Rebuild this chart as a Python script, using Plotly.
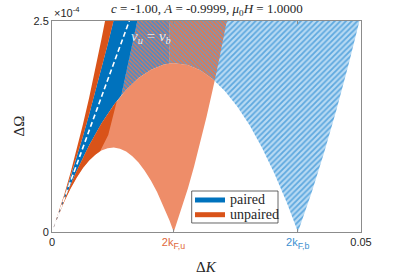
import plotly.graph_objects as go

# ---- data (DeltaK, DeltaOmega in units of 1e-4) ----
# upper edge of the unpaired continuum
q_up_u = [0, 0.001, 0.002, 0.003, 0.004, 0.005, 0.006, 0.007, 0.008, 0.00858]
w_up_u = [0, 0.213, 0.447, 0.702, 0.977, 1.273, 1.589, 1.926, 2.283, 2.5]
# lower edge of the unpaired continuum (arc to 2k_F,u then right edge)
q_lo_u = [0, 0.001, 0.002, 0.003, 0.004, 0.005, 0.006, 0.007, 0.0078, 0.008, 0.009, 0.010,
          0.011, 0.012, 0.013, 0.014, 0.015, 0.016, 0.017, 0.018, 0.019, 0.0197,
          0.021, 0.022, 0.023, 0.024, 0.025, 0.026, 0.02632, 0.027, 0.028, 0.02829]
w_lo_u = [0, 0.193, 0.365, 0.516, 0.647, 0.758, 0.847, 0.916, 0.960, 0.965, 0.993, 1.000,
          0.987, 0.953, 0.898, 0.823, 0.727, 0.611, 0.474, 0.317, 0.139, 0.0,
          0.279, 0.519, 0.780, 1.061, 1.363, 1.685, 1.792, 2.028, 2.391, 2.5]
# upper edge of the paired continuum
q_up_b = [0, 0.001, 0.002, 0.003, 0.004, 0.005, 0.006, 0.007, 0.008, 0.009, 0.00995]
w_up_b = [0, 0.206, 0.422, 0.649, 0.885, 1.131, 1.388, 1.654, 1.931, 2.218, 2.5]
# lower edge of the paired continuum
q_lo_b = [0, 0.002, 0.004, 0.006, 0.008, 0.010, 0.0105, 0.0112, 0.012, 0.014, 0.016, 0.018,
          0.019, 0.0199, 0.022, 0.024, 0.026, 0.02632, 0.028, 0.030, 0.032, 0.034, 0.036,
          0.038, 0.0398, 0.042, 0.044, 0.046, 0.048, 0.04975]
w_lo_b = [0, 0.382, 0.723, 1.024, 1.285, 1.505, 1.554, 1.618, 1.685, 1.824, 1.923, 1.982,
          1.996, 2.000, 1.978, 1.915, 1.812, 1.792, 1.669, 1.485, 1.261, 0.996, 0.691,
          0.346, 0.0, 0.466, 0.933, 1.440, 1.987, 2.5]
# dashed guide v_u = v_b
q_guide = [0, 0.0125]
w_guide = [0, 2.5]
# edges of the densely drawn parts
q_dense_b = [0.0138, 0.0112]
w_dense_b = [2.5, 1.618]
q_dense_u = [0.0091, 0.0078]
w_dense_u = [1.15, 0.96]

tick_q = [0, 0.01966, 0.03977, 0.05]
BLUE = "#0072BD"
ORANGE = "#D95319"

fig = go.Figure()


def poly(x, y, **kw):
    fig.add_trace(go.Scatter(x=x, y=y, mode="lines", fill="toself", line=dict(width=0),
                             hoverinfo="skip", showlegend=False, **kw))


def sel(qs, ws, lo, hi):
    pts = [(q, w) for q, w in zip(qs, ws) if lo <= q <= hi]
    return [p[0] for p in pts], [p[1] for p in pts]


# paired region (light hatched blue)
bx = q_up_b + [q_lo_b[-1]] + q_lo_b[::-1]
by = w_up_b + [2.5] + w_lo_b[::-1]
poly(bx, by, fillcolor="#A9D2F0",
     fillpattern=dict(shape="/", fgcolor="#5EA8DF", bgcolor="#B8DAF3", size=4, solidity=0.45))

# overlap region (paired + unpaired lines -> mottled), split in two shades
split = 0.019
ql, wl = sel(q_lo_b, w_lo_b, 0.0112, split)
mx1 = [0.0138, split] + ql[::-1]
my1 = [2.5, 2.5] + wl[::-1]
poly(mx1 + [0.0138], my1 + [2.5], fillcolor="#5D97CF",
     fillpattern=dict(shape="\\", fgcolor="#E07A50", bgcolor="#4A8BCB", size=3, solidity=0.4))
qb, wb = sel(q_lo_b, w_lo_b, split, 0.02632)
qu, wu = sel(q_lo_u, w_lo_u, 0.02632, 0.02829)
mx2 = qb + qu + [0.02829, split]
my2 = wb + wu + [2.5, 2.5]
poly(mx2, my2, fillcolor="#C0806A",
     fillpattern=dict(shape="\\", fgcolor="#E07A50", bgcolor="#6A9ACA", size=3, solidity=0.6))

# dense blue band near the upper edge of the paired continuum
ql, wl = sel(q_lo_b, w_lo_b, 0, 0.0112)
poly(q_up_b + q_dense_b + ql[::-1], w_up_b + w_dense_b + wl[::-1], fillcolor=BLUE)

# dome: unpaired only (below paired lower edge)
qu, wu = sel(q_lo_u, w_lo_u, 0, 0.02632)
qb, wb = sel(q_lo_b, w_lo_b, 0, 0.02632)
poly(qu + qb[::-1], wu + wb[::-1], fillcolor="#EE8D69")

# dense unpaired part of the dome near the origin
qb, wb = sel(q_lo_b, w_lo_b, 0, 0.0105)
qu, wu = sel(q_lo_u, w_lo_u, 0, 0.0078)
poly(qb + q_dense_u + qu[::-1], wb + w_dense_u + wu[::-1], fillcolor=ORANGE)

# left orange strip above the paired upper edge
poly(q_up_u + [q_up_b[-1]] + q_up_b[::-1], w_up_u + [2.5] + w_up_b[::-1], fillcolor=ORANGE)

# dashed guide
fig.add_trace(go.Scatter(x=q_guide, y=w_guide, mode="lines", showlegend=False, hoverinfo="skip",
                         line=dict(color="white", width=1.6, dash="5px,3px")))

ticktext = ["0",
            "<span style='color:#E0683A'>2k<sub><span style='font-size:115%'>F,u</span></sub></span>",
            "<span style='color:#3C8FD0'>2k<sub><span style='font-size:115%'>F,b</span></sub></span>",
            "0.05"]

axis_common = dict(showgrid=False, zeroline=False, showline=True, linecolor="#8c8c8c",
                   linewidth=1, mirror="allticks", ticks="inside", ticklen=3, automargin=False,
                   tickcolor="#8c8c8c", tickfont=dict(family="Liberation Sans", size=11, color="#262626"))

fig.update_layout(
    template="none",
    width=399, height=276,
    margin=dict(l=52, r=38, t=21, b=44),
    paper_bgcolor="white", plot_bgcolor="white",
    xaxis=dict(range=[0, 0.05], tickvals=tick_q, ticktext=ticktext, **axis_common),
    yaxis=dict(range=[0, 2.5], tickvals=[0, 2.5], ticktext=["0", "2.5"], **axis_common),
    showlegend=False,
    font=dict(family="Liberation Serif", color="#262626"),
)

# legend box drawn as in the original
fig.add_shape(type="rect", xref="paper", yref="paper", x0=0.4521, x1=0.7314, y0=0.0427, y1=0.1943,
              line=dict(color="#404040", width=0.8), fillcolor="white", layer="above")
for yy, col, lab in [(0.1517, BLUE, "paired"), (0.0820, ORANGE, "unpaired")]:
    fig.add_shape(type="line", xref="paper", yref="paper", x0=0.4628, x1=0.5599, y0=yy, y1=yy,
                  line=dict(color=col, width=5), layer="above")
    fig.add_annotation(xref="paper", yref="paper", x=0.5696, y=yy, xanchor="left", yanchor="middle",
                       showarrow=False, text=lab,
                       font=dict(family="Liberation Serif", size=14, color="#262626"))

fig.add_annotation(xref="paper", yref="paper", x=0.500, y=1.0, yshift=1,
                   xanchor="center", yanchor="bottom", showarrow=False,
                   text="<i>c</i> = -1.00, <i>A</i> = -0.9999, <i>μ</i><sub>0</sub><i>H</i> = 1.0000",
                   font=dict(family="Liberation Serif", size=13, color="#262626"))
fig.add_annotation(xref="paper", yref="paper", x=0.0, y=1.0, yshift=0,
                   xanchor="left", yanchor="bottom", showarrow=False,
                   text="×10<sup>-4</sup>",
                   font=dict(family="Liberation Sans", size=11, color="#262626"))
fig.add_annotation(xref="paper", yref="paper", x=0.5, y=0, yshift=-25,
                   xanchor="center", yanchor="top", showarrow=False,
                   text="Δ<i>K</i>", font=dict(family="Liberation Serif", size=15, color="#262626"))
fig.add_annotation(xref="paper", yref="paper", x=0, y=0.5, xshift=-34,
                   xanchor="center", yanchor="middle", showarrow=False, textangle=-90,
                   text="ΔΩ", font=dict(family="Liberation Serif", size=15, color="#262626"))
fig.add_annotation(x=0.0160, y=2.31, showarrow=False,
                   text="<i>v<sub>u</sub></i> = <i>v<sub>b</sub></i>",
                   font=dict(family="Liberation Serif", size=15, color="rgba(255,255,255,0.85)"))

fig.write_html("out.html", config={"displayModeBar": False},
               post_script="document.body.style.margin='0';document.body.style.overflow='hidden';")
